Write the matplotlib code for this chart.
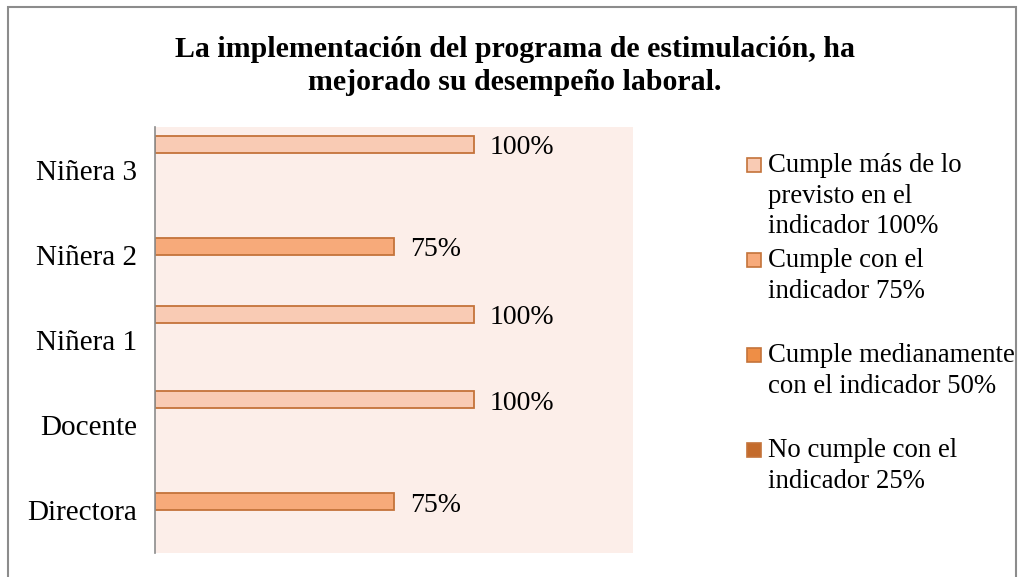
import matplotlib
matplotlib.use("Agg")
import matplotlib.pyplot as plt
from matplotlib.patches import Rectangle
import numpy as np

plt.rcParams['font.family'] = ['Liberation Serif', 'DejaVu Serif']

categories = ["Directora", "Docente", "Niñera 1", "Niñera 2", "Niñera 3"]
series_names = [
    "Cumple más de lo\nprevisto en el\nindicador 100%",
    "Cumple con el\nindicador 75%",
    "Cumple medianamente\ncon el indicador 50%",
    "No cumple con el\nindicador 25%",
]
s100 = [0, 1.00, 1.00, 0, 1.00]
s75 = [0.75, 0, 0, 0.75, 0]
s50 = [0, 0, 0, 0, 0]
s25 = [0, 0, 0, 0, 0]
series_values = [s100, s75, s50, s25]
fills = ["#F9CBB4", "#F7AA7A", "#EE8E46", "#C46B2C"]
edge = "#C4733A"
title = "La implementación del programa de estimulación, ha\nmejorado su desempeño laboral."

fig = plt.figure(figsize=(10.19, 5.77), dpi=100)
W, H = 1019, 577
ax = fig.add_axes([155 / W, 1 - 553 / H, (633 - 155) / W, (553 - 127) / H])
ax.set_facecolor("#FCEEE9")

y = np.arange(len(categories))
bh = 0.2
# series 0 is top of each group
offsets = [1.5 * bh, 0.5 * bh, -0.5 * bh, -1.5 * bh]
for vals, col, off in zip(series_values, fills, offsets):
    for yi, v in zip(y, vals):
        if v <= 0:
            continue
        ax.barh(yi + off, v, height=bh, color=col, edgecolor=edge, linewidth=1.3)
        ax.annotate(f"{v*100:.0f}%", xy=(v, yi + off), xytext=(11.5, -2.5),
                    textcoords="offset points", va="center", ha="left",
                    fontsize=20, color="black")

ax.set_xlim(0, 1.5)
ax.set_ylim(-0.5, len(categories) - 0.5)
ax.set_yticks(y)
ax.set_yticklabels(categories, fontsize=21)
ax.tick_params(axis="y", length=0, pad=13)
ax.set_xticks([])
for s in ["top", "right", "bottom"]:
    ax.spines[s].set_visible(False)
ax.spines["left"].set_color("#8C8C8C")
ax.spines["left"].set_linewidth(1.2)

fig.text(515 / W, 1 - 66 / H, title, ha="center", va="center",
         fontsize=21.5, fontweight="bold", linespacing=1.3)

# legend (manual, Excel-like slots)
slot_tops = [165, 260, 355, 450]
for name, col, yc in zip(series_names, fills, slot_tops):
    fig.patches.append(Rectangle((747 / W, 1 - (yc + 7) / H), 14 / W, 14 / H,
                                 transform=fig.transFigure, facecolor=col,
                                 edgecolor=edge, linewidth=1.2))
    fig.text(768 / W, 1 - (yc - 12) / H, name, ha="left", va="top",
             fontsize=19.3, linespacing=1.3)

# chart border
fig.patches.append(Rectangle((7.5 / W, -0.05), (1016 - 7.5) / W, 1.05 - 7.5 / H,
                             transform=fig.transFigure, fill=False,
                             edgecolor="#8C8C8C", linewidth=1.5))

fig.savefig("out.png", dpi=100)
